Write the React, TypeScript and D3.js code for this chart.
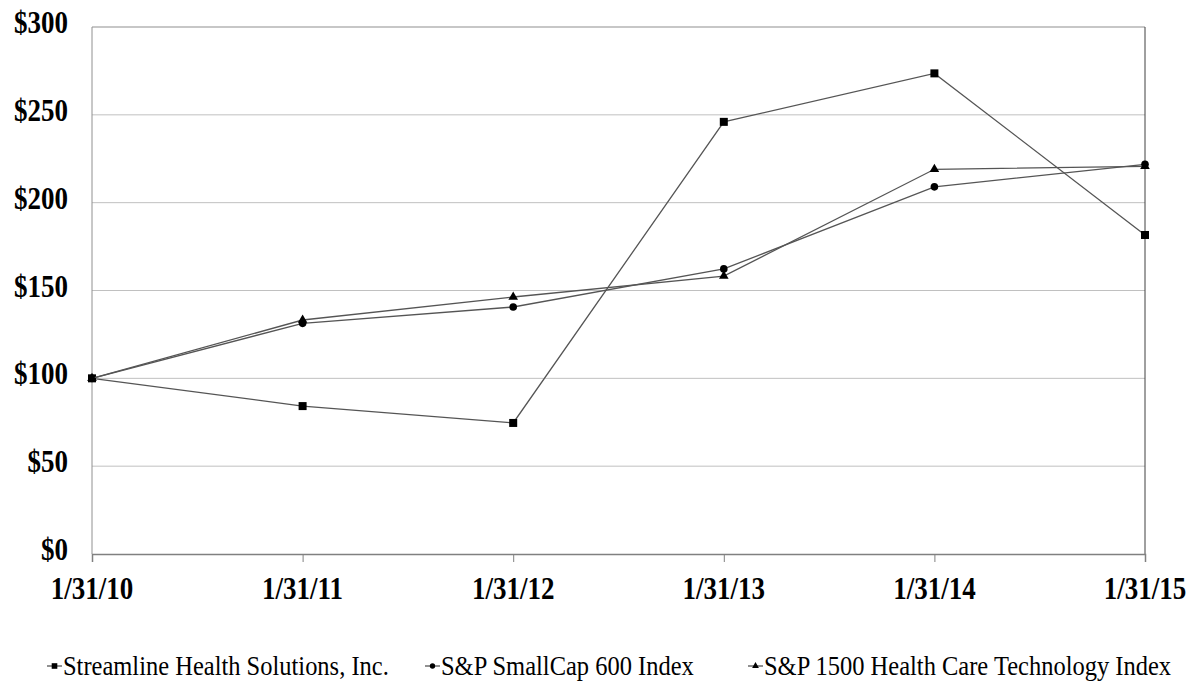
import { useEffect, useRef } from "react";
import * as d3 from "d3";

const dates = ["1/31/10", "1/31/11", "1/31/12", "1/31/13", "1/31/14", "1/31/15"];
const streamline = [100, 84.2, 74.6, 246, 273.6, 181.6];
const smallCap = [100, 131.3, 140.6, 162.3, 209, 221.8];
const healthTech = [100, 133.2, 146.3, 158.2, 219, 220.7];
const yTicks = [0, 50, 100, 150, 200, 250, 300];

const seriesList = [
  { name: "Streamline Health Solutions, Inc.", values: streamline, marker: "square" },
  { name: "S&P SmallCap 600 Index", values: smallCap, marker: "circle" },
  { name: "S&P 1500 Health Care Technology Index", values: healthTech, marker: "triangle" },
];

const W = 1188;
const H = 687;
const FONT = "'Liberation Serif', 'Times New Roman', Times, serif";

const App = () => {
  const svgRef = useRef<SVGSVGElement | null>(null);

  useEffect(() => {
    if (!svgRef.current) return;
    const margin = { top: 27, right: 43, bottom: 133, left: 92 };
    const width = W - margin.left - margin.right;
    const height = H - margin.top - margin.bottom;

    const root = d3.select(svgRef.current);
    root.selectAll("*").remove();
    const svg = root.append("g").attr("transform", `translate(${margin.left},${margin.top})`);

    const x = d3.scalePoint().domain(dates).range([0, width]);
    const y = d3.scaleLinear().domain([0, 300]).range([height, 0]);

    // 그리드
    svg
      .selectAll("line.grid")
      .data(yTicks.filter((t) => t > 0 && t < 300))
      .enter()
      .append("line")
      .attr("x1", 0)
      .attr("x2", width)
      .attr("y1", (d) => y(d))
      .attr("y2", (d) => y(d))
      .attr("stroke", "#c0c0c0")
      .attr("stroke-width", 1);

    // 테두리
    svg.append("line").attr("x1", 0).attr("x2", width).attr("y1", 0).attr("y2", 0).attr("stroke", "#909090").attr("stroke-width", 1.2);
    svg.append("line").attr("x1", width).attr("x2", width).attr("y1", 0).attr("y2", height).attr("stroke", "#404040");
    svg.append("line").attr("x1", 0).attr("x2", 0).attr("y1", 0).attr("y2", height).attr("stroke", "#909090");

    // Y축 라벨 (세로로 약간 늘림)
    svg
      .selectAll("text.ylab")
      .data(yTicks)
      .enter()
      .append("text")
      .attr("transform", (d) => `translate(-24,${y(d) + 6}) scale(1,1.15)`)
      .attr("text-anchor", "end")
      .style("font-family", FONT)
      .style("font-weight", "bold")
      .style("font-size", "27px")
      .text((d) => `$${d}`);

    // X축
    const xAxis = svg
      .append("g")
      .attr("transform", `translate(0,${height})`)
      .call(d3.axisBottom(x).tickSize(8).tickFormat(() => ""));
    xAxis.select(".domain").attr("stroke", "#808080").attr("stroke-width", 1.5);
    xAxis.selectAll(".tick line").attr("stroke", "#808080");
    svg
      .selectAll("text.xlab")
      .data(dates)
      .enter()
      .append("text")
      .attr("transform", (d) => `translate(${x(d) || 0},${height + 45}) scale(1,1.15)`)
      .attr("text-anchor", "middle")
      .style("font-family", FONT)
      .style("font-weight", "bold")
      .style("font-size", "27px")
      .text((d) => d);

    const line = d3
      .line<number>()
      .x((_, i) => x(dates[i]) || 0)
      .y((d) => y(d));

    const drawMarker = (
      g: d3.Selection<SVGGElement, unknown, null, undefined>,
      kind: string,
      cx: number,
      cy: number,
      s = 1
    ) => {
      if (kind === "square") {
        g.append("rect").attr("x", cx - 4 * s).attr("y", cy - 4 * s).attr("width", 8 * s).attr("height", 8 * s).attr("fill", "#000");
      } else if (kind === "circle") {
        g.append("circle").attr("cx", cx).attr("cy", cy).attr("r", 3.8 * s).attr("fill", "#000");
      } else {
        g.append("path")
          .attr("d", d3.symbol().type(d3.symbolTriangle).size(40 * s * s)())
          .attr("transform", `translate(${cx},${cy})`)
          .attr("fill", "#000");
      }
    };

    seriesList.forEach((s) => {
      svg
        .append("path")
        .datum(s.values)
        .attr("fill", "none")
        .attr("stroke", "#555")
        .attr("stroke-width", 1.3)
        .attr("d", line);
      const mg = svg.append("g");
      s.values.forEach((v, i) => drawMarker(mg, s.marker, x(dates[i]) || 0, y(v)));
    });

    // 범례
    const legendX = [47, 425, 748];
    const legendY = 666;
    seriesList.forEach((s, i) => {
      const lg = root.append("g");
      lg.append("line")
        .attr("x1", legendX[i])
        .attr("x2", legendX[i] + 15)
        .attr("y1", legendY)
        .attr("y2", legendY)
        .attr("stroke", "#555")
        .attr("stroke-width", 1.3);
      drawMarker(lg, s.marker, legendX[i] + 7.5, legendY, 0.7);
      lg.append("text")
        .attr("transform", `translate(${legendX[i] + 16},${legendY + 9}) scale(1,1.12)`)
        .style("font-family", FONT)
        .style("font-size", "24.5px")
        .text(s.name);
    });
  }, []);

  return (
    <div style={{ position: "absolute", left: 0, top: 0, width: W, height: H, background: "#fff" }}>
      <svg ref={svgRef} width={W} height={H}></svg>
    </div>
  );
};

export default App;
